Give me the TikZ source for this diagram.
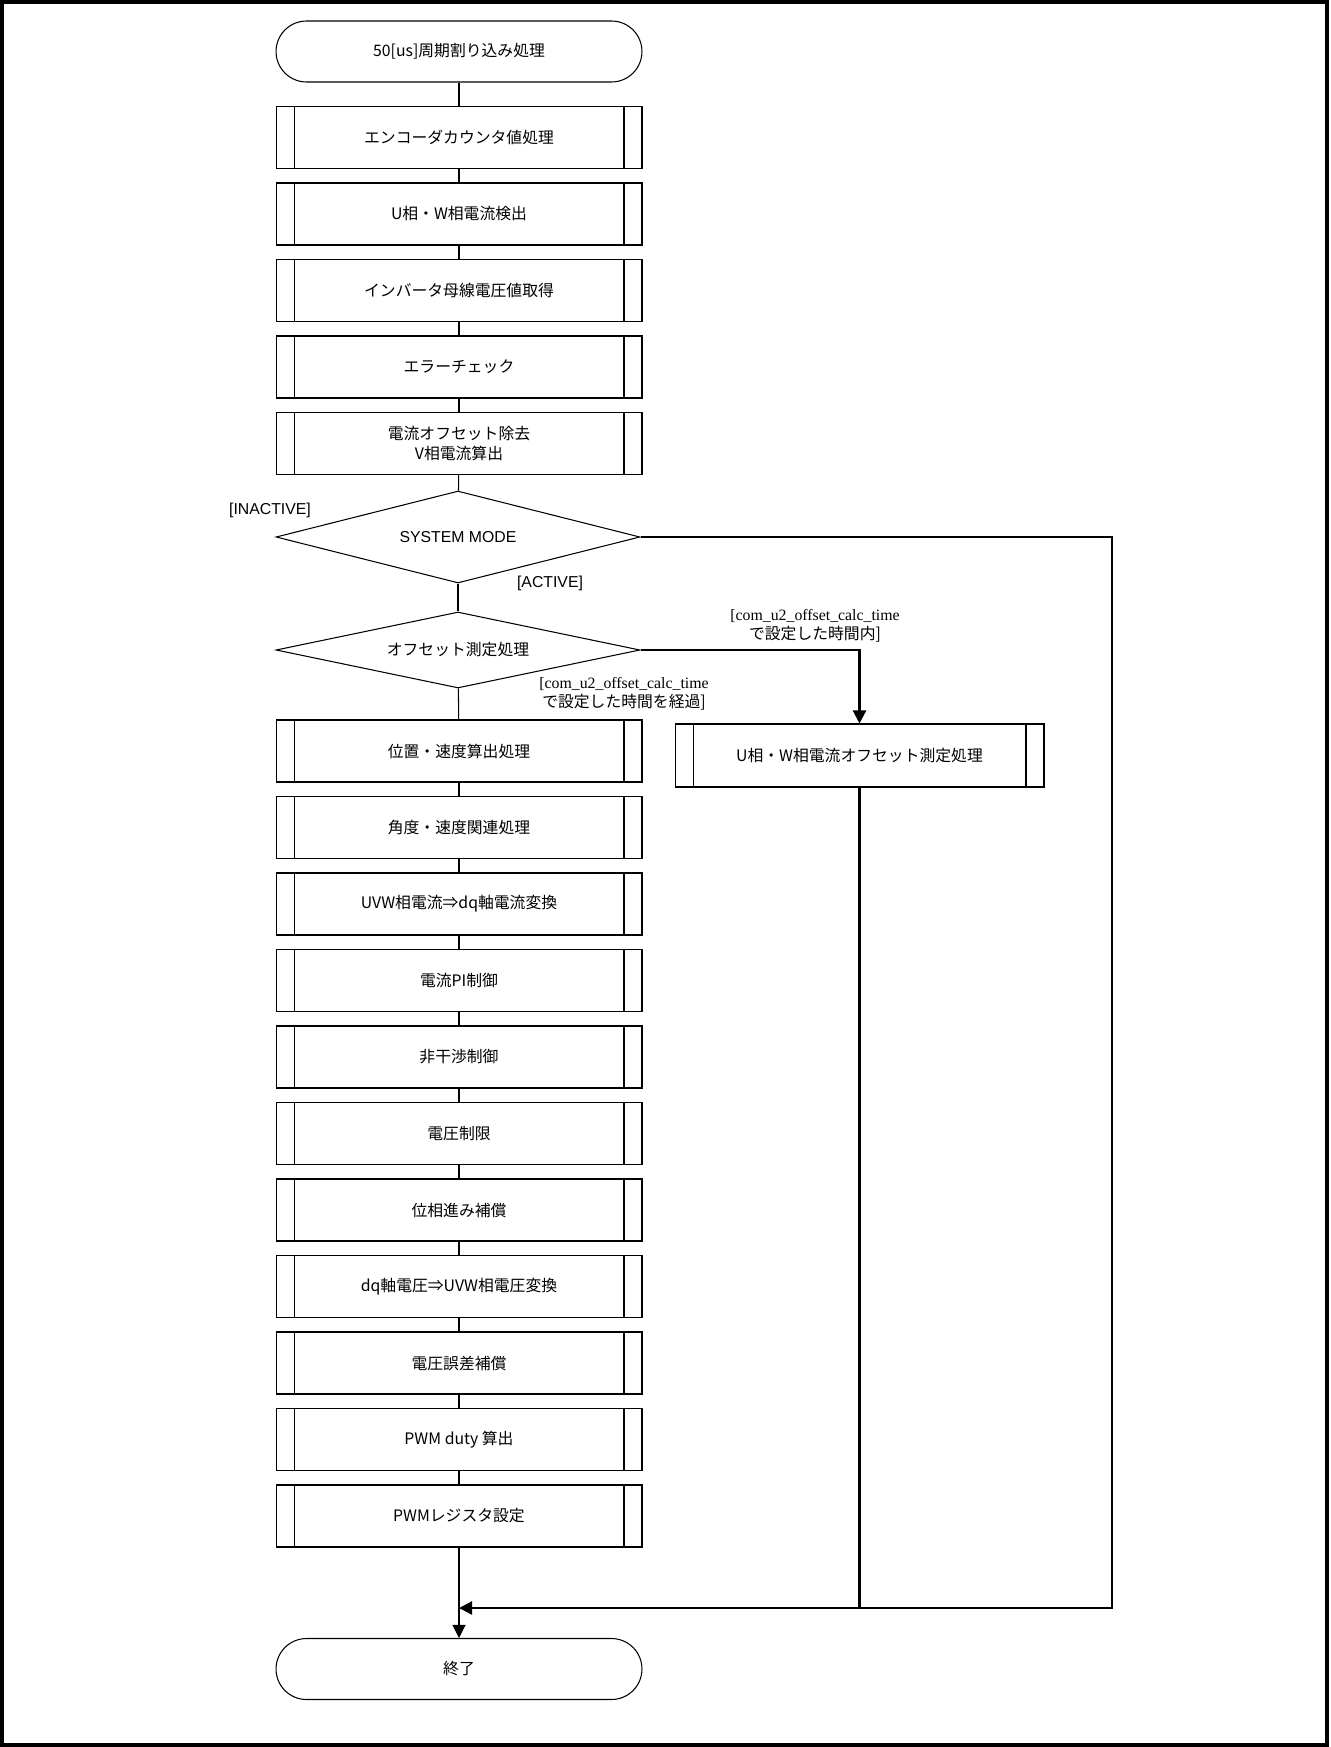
\documentclass[tikz,border=0pt]{standalone}
\usepackage{fontspec}
\setmainfont{Noto Sans CJK JP}
\newfontfamily\arialfont{Liberation Sans}
\newfontfamily\timesfont{Liberation Serif}
\usetikzlibrary{shapes.geometric,arrows.meta}

\tikzset{
    subproc/.style = {draw, minimum width = 7.32cm, minimum height = 1.24cm, align = center,
        path picture = {
            \draw ([xshift = 0.36cm]path picture bounding box.north west) -- ([xshift = 0.36cm]path picture bounding box.south west);
            \draw ([xshift = -0.36cm]path picture bounding box.north east) -- ([xshift = -0.36cm]path picture bounding box.south east);
        }},
    terminal/.style = {draw, rounded corners = 0.61cm, minimum width = 7.32cm, minimum height = 1.22cm},
    decision/.style = {draw, diamond, aspect = 4, inner sep = 0pt, minimum width = 7.28cm},
    loopline/.style = {line width = 1.3pt},
    arrowed/.style = {-{Triangle[length = 7.4pt, width = 7.4pt]}}
}

\begin{document}
\begin{tikzpicture}[x = 0.02cm, y = -0.02cm, font = \fontsize{9}{11.5}\selectfont, line width = 0.6pt]
    \useasboundingbox (0,0) rectangle (1330,1747);
    \draw [line width = 2pt] (2,2) rectangle (1327,1745);

    \node [terminal] (start) at (459,51.5) {50[us]周期割り込み処理};
    \node [subproc] (enccnt) at (459,137.5) {エンコーダカウンタ値処理};
    \node [subproc] (curdet) at (459,214) {U相・W相電流検出};
    \node [subproc] (vdc) at (459,290.5) {インバータ母線電圧値取得};
    \node [subproc] (errchk) at (459,367) {エラーチェック};
    \node [subproc] (offrem) at (459,443.5) {電流オフセット除去\\V相電流算出};
    \node [decision, minimum height = 1.84cm] (sysmode) at (458,537) {\arialfont SYSTEM MODE};
    \node [decision, minimum height = 1.52cm] (offchk) at (458,650) {オフセット測定処理};
    \node [subproc] (posspd) at (459,751) {位置・速度算出処理};
    \node [subproc] (angspd) at (459,827.5) {角度・速度関連処理};
    \node [subproc] (uvwdq) at (459,904) {UVW相電流⇒dq軸電流変換};
    \node [subproc] (curpi) at (459,980.5) {電流PI制御};
    \node [subproc] (decpl) at (459,1057) {非干渉制御};
    \node [subproc] (vlim) at (459,1133.5) {電圧制限};
    \node [subproc] (phadv) at (459,1210) {位相進み補償};
    \node [subproc] (dquvw) at (459,1286.5) {dq軸電圧⇒UVW相電圧変換};
    \node [subproc] (verr) at (459,1363) {電圧誤差補償};
    \node [subproc] (duty) at (459,1439.5) {PWM duty 算出};
    \node [subproc] (pwmreg) at (459,1516) {PWMレジスタ設定};
    \node [terminal] (finish) at (459,1669) {終了};
    \node [subproc, minimum width = 7.38cm, minimum height = 1.26cm] (offmeas) at (859.5,755.5) {U相・W相電流オフセット測定処理};

    \node (inact) at (270,510) {\arialfont [INACTIVE]};
    \node (act) at (550,583) {\arialfont [ACTIVE]};
    \node [align = center, font = \fontsize{9}{10.8}\selectfont] (within) at (815,626)
        {{\timesfont [com\_u2\_offset\_calc\_time}\\で設定した時間内]};
    \node [align = center, font = \fontsize{9}{10.8}\selectfont] (elapsed) at (624,694)
        {{\timesfont [com\_u2\_offset\_calc\_time}\\で設定した時間を経過]};

    \coordinate (merge) at (459,1608);
    \coordinate (rcorner) at (1112,1608);

    \draw (start) -- (enccnt);
    \draw (enccnt) -- (curdet);
    \draw (curdet) -- (vdc);
    \draw (vdc) -- (errchk);
    \draw (errchk) -- (offrem);
    \draw (offrem) -- (sysmode);
    \draw (sysmode) -- (offchk);
    \draw (offchk) -- (posspd);
    \draw (posspd) -- (angspd);
    \draw (angspd) -- (uvwdq);
    \draw (uvwdq) -- (curpi);
    \draw (curpi) -- (decpl);
    \draw (decpl) -- (vlim);
    \draw (vlim) -- (phadv);
    \draw (phadv) -- (dquvw);
    \draw (dquvw) -- (verr);
    \draw (verr) -- (duty);
    \draw (duty) -- (pwmreg);
    \draw [arrowed] (pwmreg) -- (finish);

    \draw [loopline, arrowed] (offchk.east) -| (offmeas.north);
    \draw [loopline] (offmeas.south) -- (offmeas.south |- merge);
    \draw [loopline, arrowed] (sysmode.east) -| (rcorner) -- (merge);
\end{tikzpicture}
\end{document}
